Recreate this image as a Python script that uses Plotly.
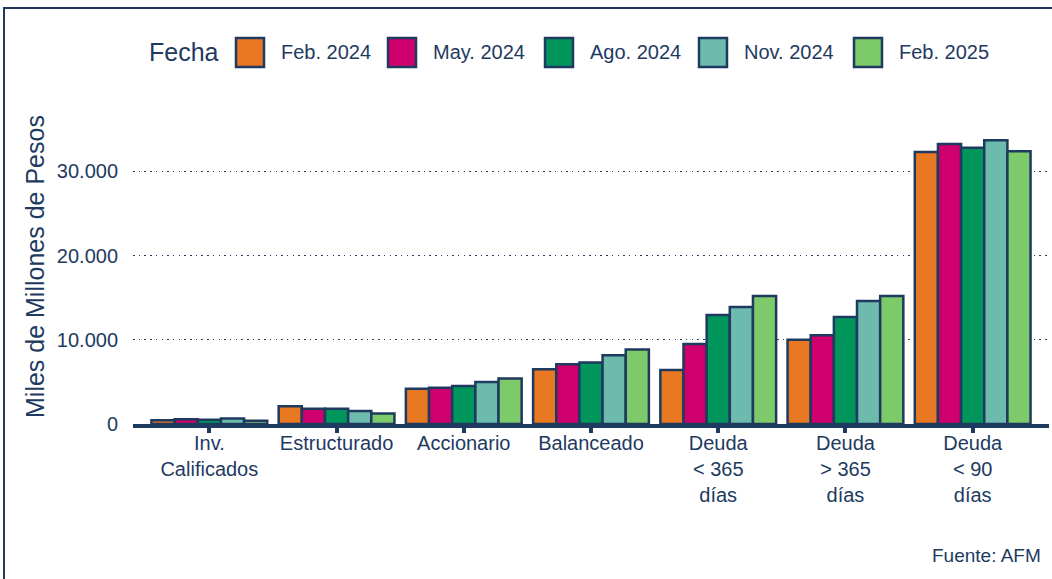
import plotly.graph_objects as go

# ---------------- data ----------------
categories = ["Inv.<br>Calificados", "Estructurado", "Accionario", "Balanceado",
              "Deuda<br>&lt; 365<br>días", "Deuda<br>&gt; 365<br>días", "Deuda<br>&lt; 90<br>días"]
series_names = ["Feb. 2024", "May. 2024", "Ago. 2024", "Nov. 2024", "Feb. 2025"]
feb_2024 = [450, 2100, 4200, 6500, 6400, 10000, 32300]
may_2024 = [550, 1800, 4300, 7100, 9500, 10550, 33250]
ago_2024 = [500, 1800, 4500, 7300, 12950, 12700, 32800]
nov_2024 = [650, 1550, 5000, 8150, 13900, 14600, 33700]
feb_2025 = [400, 1250, 5400, 8850, 15200, 15200, 32400]
series_values = [feb_2024, may_2024, ago_2024, nov_2024, feb_2025]
colors = ["#E87722", "#CF006E", "#00965B", "#6DBBAD", "#7DCA6A"]
y_ticks = [0, 10000, 20000, 30000]

NAVY = "#1E3A5F"
FONT = "Liberation Sans, Arial, sans-serif"

W, H = 1052, 579
ML, MR, MT, MB = 133, 3, 111, 155
PW, PH = W - ML - MR, H - MT - MB


def px2x(px):
    return (px - ML) / PW


def py2y(py):
    return (H - MB - py) / PH


fig = go.Figure()
for name, vals, col in zip(series_names, series_values, colors):
    fig.add_trace(go.Bar(
        x=categories, y=vals, name=name,
        marker=dict(color=col, line=dict(color=NAVY, width=2.5)),
        showlegend=False,
    ))

shapes = []
annotations = []

# outer frame (partially visible: top and left edges)
shapes.append(dict(type="rect", xref="paper", yref="paper",
                   x0=px2x(4), x1=px2x(1070), y0=py2y(600), y1=py2y(8),
                   line=dict(color=NAVY, width=2), fillcolor="rgba(0,0,0,0)", layer="above"))

# custom legend
annotations.append(dict(text="Fecha", xref="paper", yref="paper", x=px2x(147), y=py2y(52),
                        xanchor="left", yanchor="middle", showarrow=False,
                        font=dict(size=25, color=NAVY, family=FONT)))
box_lefts = [236, 388, 545, 699, 854]
for bx, name, col in zip(box_lefts, series_names, colors):
    shapes.append(dict(type="rect", xref="paper", yref="paper",
                       x0=px2x(bx), x1=px2x(bx + 28), y0=py2y(67), y1=py2y(38),
                       line=dict(color=NAVY, width=2.5), fillcolor=col))
    annotations.append(dict(text=name, xref="paper", yref="paper", x=px2x(bx + 43), y=py2y(52),
                            xanchor="left", yanchor="middle", showarrow=False,
                            font=dict(size=20, color=NAVY, family=FONT)))

# y axis title
annotations.append(dict(text="Miles de Millones de Pesos", xref="paper", yref="paper",
                        x=px2x(35), y=py2y(267), textangle=-90, showarrow=False,
                        xanchor="center", yanchor="middle",
                        font=dict(size=25, color=NAVY, family=FONT)))
# source
annotations.append(dict(text="Fuente: AFM", xref="paper", yref="paper",
                        x=px2x(1043), y=py2y(555), xanchor="right", yanchor="middle",
                        showarrow=False, font=dict(size=19, color=NAVY, family=FONT)))

fig.update_layout(
    width=W, height=H,
    margin=dict(l=ML, r=MR, t=MT, b=MB, pad=0),
    paper_bgcolor="white", plot_bgcolor="white",
    barmode="group", bargap=0.09, bargroupgap=0,
    separators=",.",
    font=dict(family=FONT, color=NAVY),
    shapes=shapes, annotations=annotations,
    xaxis=dict(
        type="category", range=[-0.6, 6.6],
        showline=True, linecolor=NAVY, linewidth=4,
        ticks="outside", ticklen=5, tickwidth=4, tickcolor=NAVY,
        tickfont=dict(size=20, color=NAVY, family=FONT),
        showgrid=False, zeroline=False,
        ticklabelstandoff=-7,
    ),
    yaxis=dict(
        range=[0, 37170], tickvals=y_ticks, tickformat=",d",
        showgrid=True, gridcolor=NAVY, gridwidth=1.3, griddash="1.5px,4.2px",
        zeroline=False, showline=False, ticks="",
        tickfont=dict(size=20, color=NAVY, family=FONT),
        ticklabelstandoff=14,
    ),
)

fig.write_html("out.html",
               config={"displayModeBar": False},
               post_script="document.body.style.margin='0px';document.body.style.padding='0px';")
